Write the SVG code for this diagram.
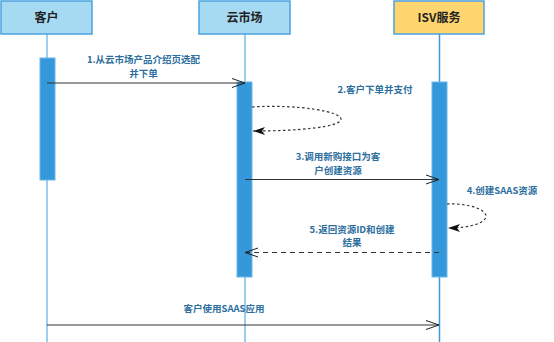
<svg xmlns="http://www.w3.org/2000/svg" width="554" height="342" viewBox="0 0 554 342">
<style>
.box{fill:#a6daf2;stroke:#4aa3df;stroke-width:1.5}
.boxy{fill:#fed56f;stroke:#4aa3df;stroke-width:1.5}
.title{font-family:"Noto Sans CJK SC","Liberation Sans",sans-serif;font-size:12px;font-weight:bold;fill:#222;text-anchor:middle}
.life{stroke:#9bd0f0;stroke-width:2;fill:none}
.life2{stroke:#3a9ad9;stroke-width:1;fill:none}
.act{fill:#3498db;stroke:#6cb8ea;stroke-width:1}
.lbl{font-family:"Noto Sans CJK SC","Liberation Sans",sans-serif;font-size:9.5px;font-weight:bold;fill:#2c6e9e;text-anchor:middle}
.msg{stroke:#333;stroke-width:1;fill:none}
.dash{stroke:#333;stroke-width:1.2;fill:none;stroke-dasharray:5 4}
.dot{stroke:#333;stroke-width:1.2;fill:none;stroke-dasharray:2.5 2.5}
</style>
<defs>
<marker id="open" markerWidth="16" markerHeight="12" refX="14" refY="6" orient="auto" markerUnits="userSpaceOnUse">
<path d="M1,1.5 L14,6 L1,10.5" fill="none" stroke="#222" stroke-width="1"/>
</marker>
<marker id="fill" markerWidth="14" markerHeight="10" refX="12" refY="5" orient="auto" markerUnits="userSpaceOnUse">
<path d="M0,1 L12,5 L0,9 L3,5 Z" fill="#111"/>
</marker>
</defs>
<g id="lifelines">
<line class="life" x1="47" y1="34" x2="47" y2="342"/>
<line class="life2" x1="245" y1="34" x2="245" y2="342"/>
<line class="life" x1="439.5" y1="34" x2="439.5" y2="342"/>
<line class="life2" x1="439.5" y1="34" x2="439.5" y2="342"/>
</g>
<g id="node-customer">
<rect class="box" x="1" y="1" width="91" height="33"/>
<text class="title" x="46.5" y="22">客户</text>
</g>
<g id="node-market">
<rect class="box" x="199" y="1" width="91" height="33"/>
<text class="title" x="244.5" y="22">云市场</text>
</g>
<g id="node-isv">
<rect class="boxy" x="394" y="1" width="90" height="33"/>
<text class="title" x="439" y="22">ISV服务</text>
</g>
<g id="activations">
<rect class="act" x="40" y="58" width="15" height="122"/>
<rect class="act" x="237" y="82" width="15" height="195"/>
<rect class="act" x="432" y="82" width="15" height="195"/>
</g>
<g id="connectors">
<line class="msg" x1="47" y1="83" x2="245" y2="83" marker-end="url(#open)"/>
<path class="dot" d="M252,107 C300,104 341,112 341,119 C341,127 300,131 253,131" marker-end="url(#fill)"/>
<line class="msg" x1="245" y1="179.5" x2="439" y2="179.5" marker-end="url(#open)"/>
<path class="dot" d="M447,204 C470,203 486,210 486,216 C486,223 470,228 448,228" marker-end="url(#fill)"/>
<line class="dash" x1="439" y1="252.5" x2="245" y2="252.5" marker-end="url(#open)"/>
<line class="msg" x1="47" y1="325" x2="439" y2="325" stroke-width="1.5" stroke="#666" marker-end="url(#open)"/>
</g>
<g id="labels">
<text class="lbl" x="143.5" y="63">1.从云市场产品介绍页选配</text>
<text class="lbl" x="143.5" y="76.5">并下单</text>
<text class="lbl" x="375" y="93">2.客户下单并支付</text>
<text class="lbl" x="338" y="160">3.调用新购接口为客</text>
<text class="lbl" x="338" y="174">户创建资源</text>
<text class="lbl" x="502" y="194">4.创建SAAS资源</text>
<text class="lbl" x="352" y="232.5">5.返回资源ID和创建</text>
<text class="lbl" x="352" y="246">结果</text>
<text class="lbl" x="224" y="312">客户使用SAAS应用</text>
</g>
</svg>
